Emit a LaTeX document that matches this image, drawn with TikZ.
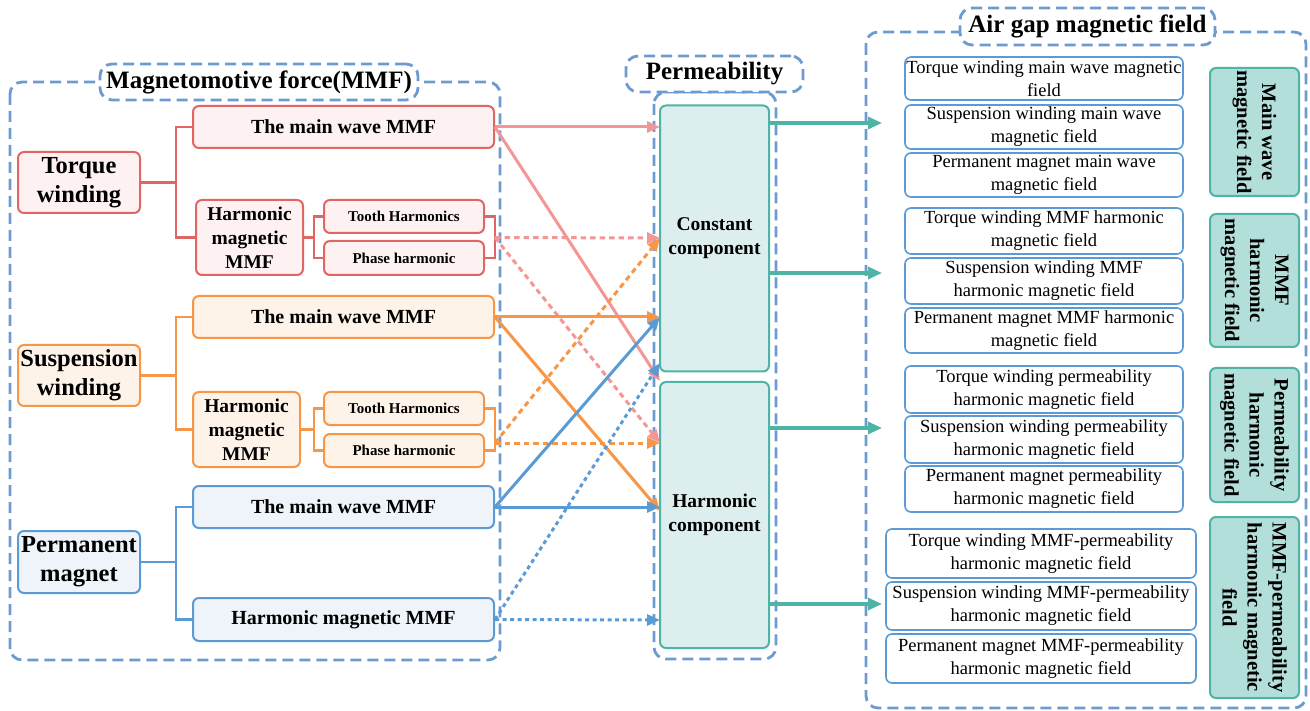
\documentclass[tikz,border=0pt]{standalone}
\usepackage{fontspec}
\setmainfont{Liberation Serif}
\usetikzlibrary{arrows.meta,calc}
\definecolor{cred}{HTML}{E06666}
\definecolor{fred}{HTML}{FDF2F1}
\definecolor{apink}{HTML}{F59696}
\definecolor{corange}{HTML}{F79646}
\definecolor{forange}{HTML}{FEF3E8}
\definecolor{cblue}{HTML}{5B9BD5}
\definecolor{fblue}{HTML}{EEF4FA}
\definecolor{dblue}{HTML}{6C9BD2}
\definecolor{cteal}{HTML}{4FB3A5}
\definecolor{fteal}{HTML}{DCEEED}
\definecolor{lteal}{HTML}{B3DFDA}
\newcommand\ftitle{\fontsize{25}{28}\selectfont\bfseries}
\newcommand\fbig{\fontsize{24.5}{29}\selectfont\bfseries}
\newcommand\fmain{\fontsize{20}{23}\selectfont\bfseries}
\newcommand\fharm{\fontsize{19.5}{24}\selectfont\bfseries}
\newcommand\fsmall{\fontsize{15}{17}\selectfont\bfseries}
\newcommand\fright{\fontsize{18.5}{23}\selectfont}
\newcommand\flab{\fontsize{20.5}{25}\selectfont\bfseries}
\begin{document}
\begin{tikzpicture}[x=1pt,y=-1pt,
  bx/.style={rounded corners=6pt, line width=2pt, align=center, inner sep=1pt},
  redb/.style={bx, draw=cred, fill=fred},
  orb/.style={bx, draw=corange, fill=forange},
  blb/.style={bx, draw=cblue, fill=fblue},
  rtb/.style={bx, draw=cblue, fill=white, line width=1.6pt, font=\fright},
  comp/.style={bx, draw=cteal, fill=fteal, font=\fharm},
  lab/.style={bx, draw=cteal, fill=lteal, font=\flab, rotate=-90},
  dbox/.style={draw=dblue, line width=2.8pt, dash pattern=on 11pt off 6pt, rounded corners=12pt},
  tbox/.style={dbox, fill=white, font=\ftitle, inner sep=2pt},
  rw/.style={draw=cred, line width=2.2pt},
  ow/.style={draw=corange, line width=2.2pt},
  bw/.style={draw=cblue, line width=2.2pt},
  tip/.style={-{Triangle[length=13pt,width=11pt]}},
  parr/.style={tip, draw=apink, line width=3pt},
  pdash/.style={parr, dash pattern=on 5.5pt off 4pt},
  oarr/.style={tip, draw=corange, line width=3pt},
  odash/.style={oarr, dash pattern=on 5.5pt off 4pt},
  barr/.style={tip, draw=cblue, line width=3pt},
  bdot/.style={barr, dash pattern=on 4pt off 3.5pt},
  tarr/.style={draw=cteal, line width=3.2pt, -{Triangle[length=14pt,width=12pt]}}
]
\useasboundingbox (0,0) rectangle (1310,711);

% containers
\draw[dbox] (10,82) rectangle (500,660);
\node[tbox, minimum width=318, minimum height=36] (tmmf) at (259,82) {Magnetomotive force(MMF)};
\draw[dbox] (654,92) rectangle (776,659);
\node[tbox, minimum width=177, minimum height=36] (tperm) at (714.5,74) {Permeability};
\draw[dbox] (866,32) rectangle (1306,708);
\node[tbox, minimum width=255, minimum height=37] (tair) at (1087.5,26.5) {Air gap magnetic field};

% torque winding group
\node[redb, font=\fbig, minimum width=122, minimum height=61] (tw) at (79,182.5) {Torque\\winding};
\node[redb, font=\fmain, minimum width=301, minimum height=42] (tmain) at (343.5,127) {The main wave MMF};
\node[redb, font=\fharm, minimum width=107, minimum height=75] (thm) at (249.5,237.5) {Harmonic\\magnetic\\MMF};
\node[redb, font=\fsmall, minimum width=160, minimum height=33] (tth) at (404,216.5) {Tooth Harmonics};
\node[redb, font=\fsmall, minimum width=160, minimum height=34] (tph) at (404,258) {Phase harmonic};
\coordinate (tj) at (176,182.5);
\coordinate (tk) at (314,237.5);
\coordinate (tr) at (495,237.5);
\draw[rw] (tw.east) -- (tj);
\draw[rw] (tmain.west) -| (tj) |- (thm.west);
\draw[rw] (thm.east) -- (tk);
\draw[rw] (tth.west) -| (tk) |- (tph.west);
\draw[rw] (tth.east) -| (tr) |- (tph.east);

% suspension winding group
\node[orb, font=\fbig, minimum width=122, minimum height=61] (sw) at (79,375.5) {Suspension\\winding};
\node[orb, font=\fmain, minimum width=301, minimum height=42] (smain) at (343.5,317) {The main wave MMF};
\node[orb, font=\fharm, minimum width=107, minimum height=75] (shm) at (246.5,429.5) {Harmonic\\magnetic\\MMF};
\node[orb, font=\fsmall, minimum width=160, minimum height=33] (sth) at (404,408.5) {Tooth Harmonics};
\node[orb, font=\fsmall, minimum width=160, minimum height=33] (sph) at (404,450.5) {Phase harmonic};
\coordinate (sj) at (176,375.5);
\coordinate (sk) at (314,429.5);
\coordinate (sr) at (495,443);
\draw[ow] (sw.east) -- (sj);
\draw[ow] (smain.west) -| (sj) |- (shm.west);
\draw[ow] (shm.east) -- (sk);
\draw[ow] (sth.west) -| (sk) |- (sph.west);
\draw[ow] (sth.east) -| (sr) |- (sph.east);

% permanent magnet group
\node[blb, font=\fbig, minimum width=122, minimum height=62] (pm) at (79,562) {Permanent\\magnet};
\node[blb, font=\fmain, minimum width=301, minimum height=42] (pmain) at (343.5,507) {The main wave MMF};
\node[blb, font=\fmain, minimum width=301, minimum height=43] (pharm) at (343.5,619.5) {Harmonic magnetic MMF};
\coordinate (pj) at (176,562);
\draw[bw] (pm.east) -- (pj);
\draw[bw] (pmain.west) -| (pj) |- (pharm.west);

% permeability components
\node[comp, minimum width=109, minimum height=266] (cc) at (714.5,238.5) {Constant\\component};
\node[comp, minimum width=109, minimum height=266] (hc) at (714.5,515) {Harmonic\\component};

% target points on components
\coordinate (c127) at (660,127);
\coordinate (c238) at (660,238);
\coordinate (c317) at (660,317);
\coordinate (c363) at (660,363);
\coordinate (h381) at (660,381);
\coordinate (h443) at (660,443);
\coordinate (h510) at (660,511);
\coordinate (h507) at (660,507);
\coordinate (h620) at (660,620);

% arrows MMF -> permeability
\draw[parr] (tmain.east) -- (c127);
\draw[parr] (tmain.east) -- (h381);
\draw[pdash] (tr) -- (c238);
\draw[pdash] (tr) -- (h443);
\draw[oarr] (smain.east) -- (c317);
\draw[oarr] (smain.east) -- (h510);
\draw[odash] (sr) -- (c238);
\draw[odash] (sr) -- (h443);
\draw[barr] (pmain.east) -- (c317);
\draw[barr] (pmain.east) -- (h507);
\draw[bdot] (pharm.east) -- (c363);
\draw[bdot] (pharm.east) -- (h620);

% air gap field boxes
\node[rtb, minimum width=278, minimum height=43] (r1) at (1044,78.5) {Torque winding main wave magnetic\\field};
\node[rtb, minimum width=278, minimum height=44] (r2) at (1044,127) {Suspension winding main wave\\magnetic field};
\node[rtb, minimum width=278, minimum height=44] (r3) at (1044,175) {Permanent magnet main wave\\magnetic field};
\node[rtb, minimum width=278, minimum height=46] (r4) at (1044,231) {Torque winding MMF harmonic\\magnetic field};
\node[rtb, minimum width=278, minimum height=46] (r5) at (1044,281) {Suspension winding MMF\\harmonic magnetic field};
\node[rtb, minimum width=278, minimum height=45] (r6) at (1044,330.5) {Permanent magnet MMF harmonic\\magnetic field};
\node[rtb, minimum width=278, minimum height=47] (r7) at (1044,389.5) {Torque winding permeability\\harmonic magnetic field};
\node[rtb, minimum width=278, minimum height=47] (r8) at (1044,439.5) {Suspension winding permeability\\harmonic magnetic field};
\node[rtb, minimum width=278, minimum height=46] (r9) at (1044,489) {Permanent magnet permeability\\harmonic magnetic field};
\node[rtb, minimum width=310, minimum height=49] (r10) at (1041,553.5) {Torque winding MMF-permeability\\harmonic magnetic field};
\node[rtb, minimum width=310, minimum height=48] (r11) at (1041,606) {Suspension winding MMF-permeability\\harmonic magnetic field};
\node[rtb, minimum width=310, minimum height=49] (r12) at (1041,658.5) {Permanent magnet MMF-permeability\\harmonic magnetic field};

% category labels
\node[lab, minimum width=128, minimum height=89] (l1) at (1254.5,132) {Main wave\\magnetic field};
\node[lab, minimum width=133, minimum height=89] (l2) at (1254.5,280.5) {MMF\\harmonic\\magnetic field};
\node[lab, minimum width=134, minimum height=89] (l3) at (1254.5,435) {Permeability\\harmonic\\magnetic field};
\node[lab, minimum width=181, minimum height=89] (l4) at (1254.5,607.5) {MMF-permeability\\harmonic magnetic\\field};

% arrows permeability -> air gap field
\coordinate (o1) at (882,123);
\coordinate (o2) at (882,273);
\coordinate (o3) at (882,428);
\coordinate (o4) at (882,604);
\draw[tarr] (cc.east |- o1) -- (o1);
\draw[tarr] (cc.east |- o2) -- (o2);
\draw[tarr] (hc.east |- o3) -- (o3);
\draw[tarr] (hc.east |- o4) -- (o4);
\end{tikzpicture}
\end{document}
